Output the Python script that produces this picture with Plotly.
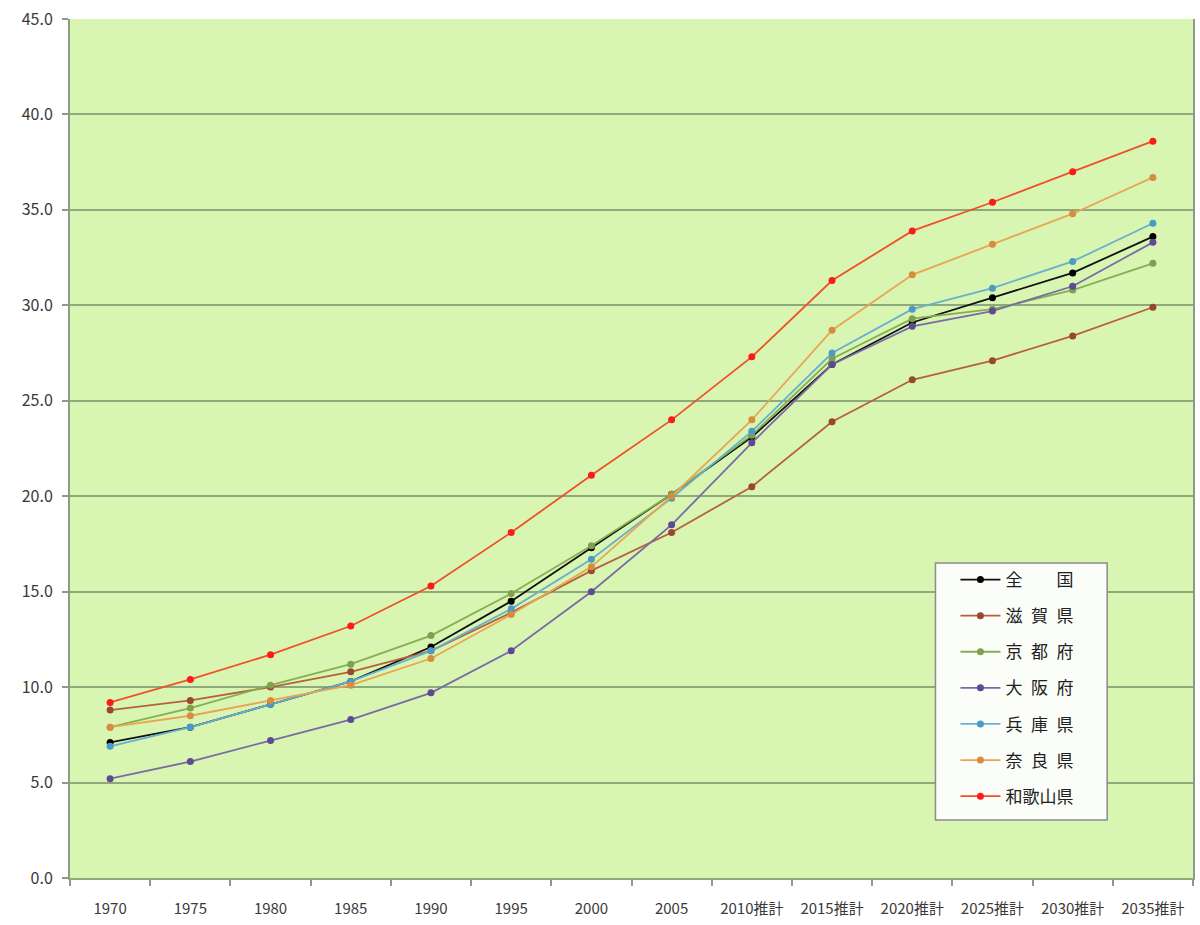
import plotly.graph_objects as go

# 高齢化率（%）の推移と推計
years = ["1970", "1975", "1980", "1985", "1990", "1995", "2000", "2005",
         "2010推計", "2015推計", "2020推計", "2025推計", "2030推計", "2035推計"]

zenkoku   = [7.1, 7.9, 9.1, 10.3, 12.1, 14.5, 17.3, 20.1, 23.1, 26.9, 29.1, 30.4, 31.7, 33.6]
shiga     = [8.8, 9.3, 10.0, 10.8, 11.9, 13.9, 16.1, 18.1, 20.5, 23.9, 26.1, 27.1, 28.4, 29.9]
kyoto     = [7.9, 8.9, 10.1, 11.2, 12.7, 14.9, 17.4, 20.1, 23.2, 27.2, 29.3, 29.8, 30.8, 32.2]
osaka     = [5.2, 6.1, 7.2, 8.3, 9.7, 11.9, 15.0, 18.5, 22.8, 26.9, 28.9, 29.7, 31.0, 33.3]
hyogo     = [6.9, 7.9, 9.1, 10.3, 11.9, 14.1, 16.7, 19.9, 23.4, 27.5, 29.8, 30.9, 32.3, 34.3]
nara      = [7.9, 8.5, 9.3, 10.1, 11.5, 13.8, 16.3, 20.0, 24.0, 28.7, 31.6, 33.2, 34.8, 36.7]
wakayama  = [9.2, 10.4, 11.7, 13.2, 15.3, 18.1, 21.1, 24.0, 27.3, 31.3, 33.9, 35.4, 37.0, 38.6]

series = [
    ("全\u3000\u3000国", zenkoku, "#111111", "#000000"),
    ("滋\u2002賀\u2002県", shiga, "#B8603E", "#9A4630"),
    ("京\u2002都\u2002府", kyoto, "#86AE52", "#7FA04E"),
    ("大\u2002阪\u2002府", osaka, "#7A6AA6", "#5E4A92"),
    ("兵\u2002庫\u2002県", hyogo, "#6AAFCF", "#4A9CC6"),
    ("奈\u2002良\u2002県", nara, "#EAA452", "#D88C3E"),
    ("和歌山県", wakayama, "#F0502A", "#FF1A1A"),
]

fig = go.Figure()
for i, (name, vals, lc, mc) in enumerate(series):
    fig.add_trace(go.Scatter(
        x=years, y=vals, name=name, mode="lines+markers",
        legendgroup=f"g{i}",
        line=dict(color=lc, width=1.8),
        marker=dict(color=mc, size=7),
    ))

font_main = "Noto Sans CJK JP"

# plot area in pixels
W, H = 1200, 925
L, R, T, B = 70, 5, 19, 47
plot_w = W - L - R
plot_h = H - T - B


def px_x(p):
    return (p - L) / plot_w


def px_y(p):
    return (H - B - p) / plot_h


fig.update_layout(
    width=W, height=H,
    margin=dict(l=L, r=R, t=T, b=B),
    paper_bgcolor="#FFFFFF",
    plot_bgcolor="#D8F6B2",
    font=dict(family=font_main, size=14, color="#3A3A3A"),
    showlegend=True,
    legend=dict(
        x=px_x(957), y=px_y(562), xref="paper", yref="paper",
        xanchor="left", yanchor="top",
        bgcolor="rgba(0,0,0,0)", borderwidth=0,
        font=dict(family=font_main, size=17, color="#202020"),
        traceorder="grouped", tracegroupgap=11,
        itemwidth=40,
    ),
    shapes=[dict(
        type="rect", xref="paper", yref="paper",
        x0=px_x(937), x1=px_x(1109), y0=px_y(820), y1=px_y(563),
        fillcolor="#FBFDF8", line=dict(color="#8C8C8C", width=1.5),
        layer="above",
    )],
)

fig.update_xaxes(
    type="category",
    showgrid=False,
    showline=True, linecolor="#8EAA7C", linewidth=2,
    ticks="outside", tickson="boundaries", ticklen=6,
    tickcolor="#8E9A88", tickwidth=1.5,
    ticklabelstandoff=16,
    tickfont=dict(family=font_main, size=15, color="#3A3A3A"),
    range=[-0.5, 13.5],
)
fig.update_yaxes(
    range=[0, 45], dtick=5, tickformat=".1f",
    showgrid=True, gridcolor="#8EAA7C", gridwidth=2,
    showline=True, linecolor="#8E9A88", linewidth=2, mirror=True,
    ticks="outside", ticklen=6, tickcolor="#8E9A88", tickwidth=1.5,
    ticklabelstandoff=6,
    zeroline=False,
    tickfont=dict(family=font_main, size=16, color="#3A3A3A"),
)

fig.write_html("out.html")
